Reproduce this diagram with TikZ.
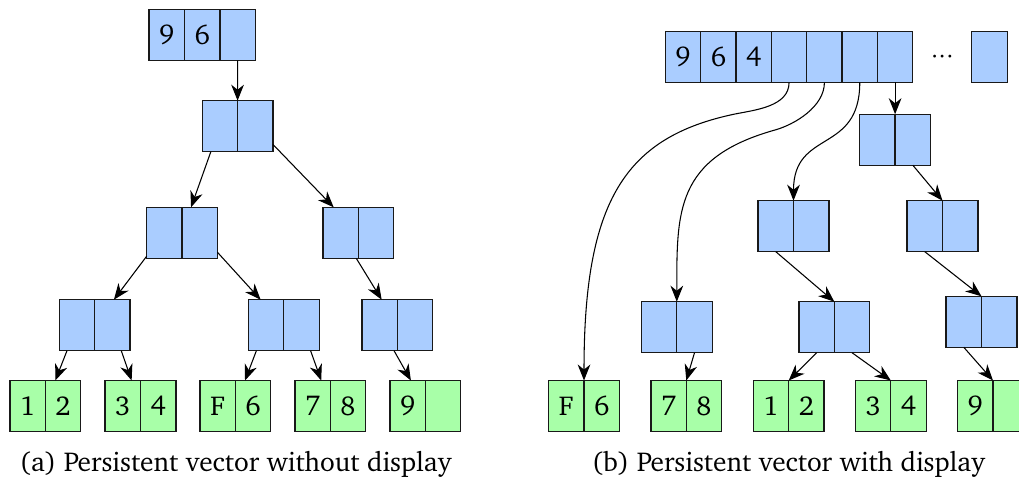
\documentclass[tikz,border=0pt]{standalone}
\usepackage[T1]{fontenc}
\usepackage{charter}
\usetikzlibrary{arrows.meta}
\definecolor{cellblue}{RGB}{170,205,255}
\definecolor{cellgreen}{RGB}{168,255,168}

\begin{document}
\begin{tikzpicture}[x=0.75pt,y=0.75pt,yscale=-1,xscale=1,
    font=\fontsize{20.5}{24}\selectfont,
    cell/.style={draw=black!90,line width=1pt,minimum width=26.55pt,minimum height=38.25pt,inner sep=0pt,outer sep=0pt},
    inner/.style={cell,fill=cellblue},
    leaf/.style={cell,fill=cellgreen},
    pair/.style={minimum width=53.1pt,minimum height=38.25pt,inner sep=0pt,outer sep=0pt},
    link/.style={-{Stealth[length=12pt,width=9.5pt,inset=3.8pt]},line width=0.8pt}]
\useasboundingbox (0,0) rectangle (1019,481);

%Shape: top array (a)
    \node[inner] (ta) at (166.75,34.8) {9};
    \node[inner] (tb) at (202.15,34.8) {6};
    \node[inner] (tc) at (237.55,34.8) {};
%Shape: inner pairs (a)
    \node[pair] (lv1) at (237.6,126.2) {};
    \node[inner,anchor=east] (lv1-l) at (lv1.center) {};
    \node[inner,anchor=west] (lv1-r) at (lv1.center) {};
    \node[pair] (lv2a) at (182,232.8) {};
    \node[inner,anchor=east] (lv2a-l) at (lv2a.center) {};
    \node[inner,anchor=west] (lv2a-r) at (lv2a.center) {};
    \node[pair] (lv2b) at (358.3,232.8) {};
    \node[inner,anchor=east] (lv2b-l) at (lv2b.center) {};
    \node[inner,anchor=west] (lv2b-r) at (lv2b.center) {};
    \node[pair] (lv3a) at (94.7,325.2) {};
    \node[inner,anchor=east] (lv3a-l) at (lv3a.center) {};
    \node[inner,anchor=west] (lv3a-r) at (lv3a.center) {};
    \node[pair] (lv3b) at (283.8,325.2) {};
    \node[inner,anchor=east] (lv3b-l) at (lv3b.center) {};
    \node[inner,anchor=west] (lv3b-r) at (lv3b.center) {};
    \node[pair] (lv3c) at (397.3,325.2) {};
    \node[inner,anchor=east] (lv3c-l) at (lv3c.center) {};
    \node[inner,anchor=west] (lv3c-r) at (lv3c.center) {};
%Shape: leaves (a)
    \node[pair] (lfa) at (45.3,406) {};
    \node[leaf,anchor=east] (lfa-l) at (lfa.center) {1};
    \node[leaf,anchor=west] (lfa-r) at (lfa.center) {2};
    \node[pair] (lfb) at (140.5,406) {};
    \node[leaf,anchor=east] (lfb-l) at (lfb.center) {3};
    \node[leaf,anchor=west] (lfb-r) at (lfb.center) {4};
    \node[pair] (lfc) at (235.3,406) {};
    \node[leaf,anchor=east] (lfc-l) at (lfc.center) {F};
    \node[leaf,anchor=west] (lfc-r) at (lfc.center) {6};
    \node[pair] (lfd) at (330.3,406) {};
    \node[leaf,anchor=east] (lfd-l) at (lfd.center) {7};
    \node[leaf,anchor=west] (lfd-r) at (lfd.center) {8};
    \node[pair] (lfe) at (425.3,406) {};
    \node[leaf,anchor=east] (lfe-l) at (lfe.center) {9};
    \node[leaf,anchor=west] (lfe-r) at (lfe.center) {};

%Straight Lines (a)
    \draw[link] (tc) -- (lv1);
    \draw[link] (lv1-l) -- (lv2a);
    \draw[link] (lv1-r) -- (lv2b);
    \draw[link] (lv2a-l) -- (lv3a);
    \draw[link] (lv2a-r) -- (lv3b);
    \draw[link] (lv2b-l) -- (lv3c);
    \draw[link] (lv3a-l) -- (lfa);
    \draw[link] (lv3a-r) -- (lfb);
    \draw[link] (lv3b-l) -- (lfc);
    \draw[link] (lv3b-r) -- (lfd);
    \draw[link] (lv3c-l) -- (lfe);

%Shape: display array (b)
    \node[inner] (rt1) at (683,57) {9};
    \node[inner] (rt2) at (718.35,57) {6};
    \node[inner] (rt3) at (753.7,57) {4};
    \node[inner] (rt4) at (789.05,57) {};
    \node[inner] (rt5) at (824.4,57) {};
    \node[inner] (rt6) at (859.75,57) {};
    \node[inner] (rt7) at (895.1,57) {};
    \node (dots) at (942.3,57) {${\cdot}{\cdot}{\cdot}$};
    \node[inner] (rt8) at (989.5,57) {};
%Shape: inner pairs (b)
    \node[pair] (rv1) at (895.1,139.7) {};
    \node[inner,anchor=east] (rv1-l) at (rv1.center) {};
    \node[inner,anchor=west] (rv1-r) at (rv1.center) {};
    \node[pair] (rv2a) at (793.5,226.2) {};
    \node[inner,anchor=east] (rv2a-l) at (rv2a.center) {};
    \node[inner,anchor=west] (rv2a-r) at (rv2a.center) {};
    \node[pair] (rv2b) at (942.5,226.2) {};
    \node[inner,anchor=east] (rv2b-l) at (rv2b.center) {};
    \node[inner,anchor=west] (rv2b-r) at (rv2b.center) {};
    \node[pair] (rv3a) at (676.8,327.2) {};
    \node[inner,anchor=east] (rv3a-l) at (rv3a.center) {};
    \node[inner,anchor=west] (rv3a-r) at (rv3a.center) {};
    \node[pair] (rv3b) at (834.3,327.2) {};
    \node[inner,anchor=east] (rv3b-l) at (rv3b.center) {};
    \node[inner,anchor=west] (rv3b-r) at (rv3b.center) {};
    \node[pair] (rv3c) at (981.5,321.8) {};
    \node[inner,anchor=east] (rv3c-l) at (rv3c.center) {};
    \node[inner,anchor=west] (rv3c-r) at (rv3c.center) {};
%Shape: leaves (b)
    \node[pair] (rfa) at (584,406) {};
    \node[leaf,anchor=east] (rfa-l) at (rfa.center) {F};
    \node[leaf,anchor=west] (rfa-r) at (rfa.center) {6};
    \node[pair] (rfb) at (686.3,406) {};
    \node[leaf,anchor=east] (rfb-l) at (rfb.center) {7};
    \node[leaf,anchor=west] (rfb-r) at (rfb.center) {8};
    \node[pair] (rfc) at (788.7,406) {};
    \node[leaf,anchor=east] (rfc-l) at (rfc.center) {1};
    \node[leaf,anchor=west] (rfc-r) at (rfc.center) {2};
    \node[pair] (rfd) at (890.8,406) {};
    \node[leaf,anchor=east] (rfd-l) at (rfd.center) {3};
    \node[leaf,anchor=west] (rfd-r) at (rfd.center) {4};
    \node[pair] (rfe) at (993,406) {};
    \node[leaf,anchor=east] (rfe-l) at (rfe.center) {9};
    \node[leaf,anchor=west] (rfe-r) at (rfe.center) {};

%Straight Lines (b)
    \draw[link] (rt7.south) -- (rv1.north);
    \draw[link] (rv1-r.south) -- (rv2b.north);
    \draw[link] (rv2a-l.south) -- (rv3b.north);
    \draw[link] (rv2b-l.south) -- (rv3c.north);
    \draw[link] (rv3a-r.south) -- (rfb.north);
    \draw[link] (rv3b-l.south) -- (rfc.north);
    \draw[link] (rv3b-r.south) -- (rfd.north);
    \draw[link] (rv3c-l.south) -- (rfe.north);
%Curve Lines (b)
    \coordinate (bend4) at (735,114);
    \coordinate (bend5) at (775,130);
    \draw[link] (rt4.south) .. controls +(0,24) and +(20,-4) .. (bend4) .. controls +(-110,23) and +(0,-180) .. (rfa.north);
    \draw[link] (rt5.south) .. controls +(0,24) and +(20,-5.6) .. (bend5) .. controls +(-100,28) and +(0,-90) .. (rv3a.north);
    \draw[link] (rt6.south) .. controls +(0,72) and +(0,-72) .. (rv2a.north);

% Text Node
    \node[anchor=base] (capa) at (235.5,471.7) {(a) Persistent vector without display};
% Text Node
    \node[anchor=base] (capb) at (788.3,471.7) {(b) Persistent vector with display};

\end{tikzpicture}
\end{document}
